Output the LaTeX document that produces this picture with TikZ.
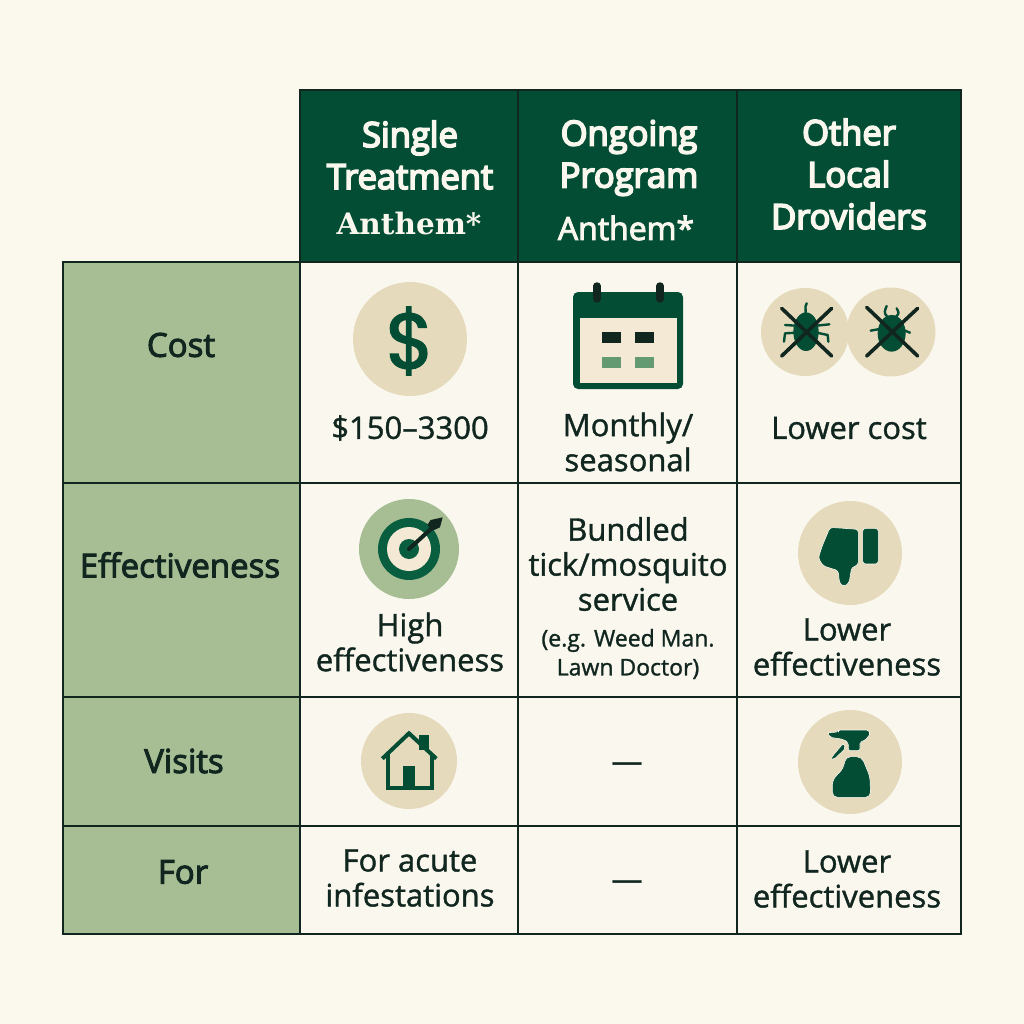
\documentclass[tikz,border=0pt]{standalone}
\usepackage{fontspec}
\setmainfont{Open Sans}[RawFeature={embolden=1.2}]
\newfontfamily\rowfont{Open Sans}[RawFeature={embolden=3}]
\newfontfamily\headfont{Open Sans}[RawFeature={embolden=5}]
\newfontfamily\slab{DejaVu Serif}
\newfontfamily\popp{Poppins}[RawFeature={embolden=2}]
\definecolor{pagebg}{HTML}{FBF8EE}
\definecolor{cellbg}{HTML}{FAF8EE}
\definecolor{dkgreen}{HTML}{044D35}
\definecolor{sage}{HTML}{A7BE95}
\definecolor{tan}{HTML}{E5DABC}
\definecolor{cream}{HTML}{F3E9D4}
\definecolor{ink}{HTML}{10261F}
\definecolor{midgreen}{HTML}{649A72}
\definecolor{ringgreen}{HTML}{0A5E40}
\newcommand{\fs}[2]{\fontsize{#1}{#2}\selectfont}
\tikzset{
  gridcell/.style={draw=ink,line width=1.2pt,anchor=north west,inner sep=0pt,outer sep=0pt},
  headcell/.style={gridcell,fill=dkgreen},
  rowcell/.style={gridcell,fill=sage},
  bodycell/.style={gridcell,fill=cellbg},
  headtxt/.style={text=cellbg,align=center,font=\headfont\fs{34.5}{42}},
  rowtxt/.style={text=ink,align=center,font=\rowfont\fs{33}{40}},
  bodytxt/.style={text=ink,align=center,font=\fs{31}{35}},
  smalltxt/.style={text=ink,align=center,font=\fs{23}{29}},
  iconfill/.style={fill=dkgreen,draw=cellbg,line width=.6pt,line join=round},
  crossline/.style={draw=ink,line width=3.6pt,line cap=round},
  legline/.style={draw=dkgreen,line width=2.4pt,line cap=round,line join=round},
  houseline/.style={draw=dkgreen,line width=4pt,line join=miter}
}
\newcommand{\cellbox}[6]{\node[#1,minimum width=#4pt,minimum height=#5pt] (#6) at (#2,#3) {};}
\begin{document}
\begin{tikzpicture}[x=1pt,y=-1pt]
\useasboundingbox (0,0) rectangle (1024,1024);
\fill[pagebg] (0,0) rectangle (1024,1024);
% header cells
\cellbox{headcell}{300}{90}{218}{172}{h1}
\cellbox{headcell}{518}{90}{219}{172}{h2}
\cellbox{headcell}{737}{90}{224}{172}{h3}
% row header cells
\cellbox{rowcell}{63}{262}{237}{221}{r1}
\cellbox{rowcell}{63}{483}{237}{214}{r2}
\cellbox{rowcell}{63}{697}{237}{129}{r3}
\cellbox{rowcell}{63}{826}{237}{108}{r4}
% body
\foreach \cx/\cw/\cn in {300/218/a,518/219/b,737/224/c}{
  \cellbox{bodycell}{\cx}{262}{\cw}{221}{\cn1}
  \cellbox{bodycell}{\cx}{483}{\cw}{214}{\cn2}
  \cellbox{bodycell}{\cx}{697}{\cw}{129}{\cn3}
  \cellbox{bodycell}{\cx}{826}{\cw}{108}{\cn4}
}
% header text
\node[headtxt] (t1) at (410,155) {Single\\Treatment};
\node[text=cellbg,font=\slab\bfseries\fs{29.5}{32}] (t1b) at (409,224) {Anthem*};
\node[headtxt] (t2) at (629,158) {Ongoing\\Program};
\node[text=cellbg,font=\rowfont\fs{32}{34}] (t2b) at (626,228) {Anthem*};
\node[headtxt] (t3) at (849,174) {Other\\Local\\Droviders};
% row labels
\node[rowtxt] (l1) at (181,345) {Cost};
\node[rowtxt] (l2) at (180,565) {Effectiveness};
\node[rowtxt] (l3) at (184,761) {Visits};
\node[rowtxt] (l4) at (183,872) {For};
% body text
\node[bodytxt] (c11) at (410,428) {\$150–3300};
\node[bodytxt] (c12) at (628,442) {Monthly/\\seasonal};
\node[bodytxt] (c13) at (849,428) {Lower cost};
\node[bodytxt] (c21) at (410,642) {High\\effectiveness};
\node[bodytxt] (c22) at (628,564) {Bundled\\tick/mosquito\\service};
\node[smalltxt] (c22b) at (628,654) {(e.g. Weed Man.\\Lawn Doctor)};
\node[bodytxt] (c23) at (847,647) {Lower\\effectiveness};
\node[bodytxt] (c32) at (627,767) {—};
\node[bodytxt] (c41) at (410,878) {For acute\\infestations};
\node[bodytxt] (c42) at (627,885) {—};
\node[bodytxt] (c43) at (847,879) {Lower\\effectiveness};
% dollar icon
\fill[tan] (410,339) circle (57);
\node[text=dkgreen,font=\popp\fs{78}{78}] (dollar) at (410,341) {\$};
% calendar icon
\fill[dkgreen,rounded corners=5pt] (573,292) rectangle (683,389);
\fill[cream] (580,318) rectangle (677,383);
\foreach \px in {597,660}{\draw[ink,line width=7.5pt,line cap=round] (\px,286) -- (\px,299);}
\foreach \px in {602,635}{
  \fill[ink] (\px,332) rectangle ++(19,11);
  \fill[midgreen] (\px,357) rectangle ++(19,11);
}
% bug icons
\fill[tan] (805,332) circle (44);
\fill[tan] (891,332) circle (44.5);
\begin{scope}[shift={(750,290)},x=.3333pt,y=-.3333pt]
  \fill[dkgreen] (168,125) ellipse (38 and 58);
  \draw[legline] (160,80) .. controls (175,65) and (160,55) .. (170,40);
  \draw[legline] (105,105) -- (150,108);
  \draw[legline] (190,108) -- (238,103);
  \draw[legline] (140,128) -- (105,130) -- (102,155);
  \draw[legline] (200,128) -- (233,135) -- (235,155);
  \fill[dkgreen] (425,130) ellipse (42 and 55);
  \draw[legline] (412,80) .. controls (400,70) and (405,60) .. (410,48);
  \draw[legline] (438,80) .. controls (450,70) and (445,65) .. (440,55);
  \draw[legline] (362,122) -- (400,115);
  \draw[legline] (455,118) -- (480,128);
  \draw[crossline] (95,55) -- (245,198);
  \draw[crossline] (245,55) -- (95,198);
  \draw[crossline] (350,52) -- (503,198);
  \draw[crossline] (503,55) -- (350,198);
\end{scope}
% target icon
\fill[sage] (409,549) circle (50);
\fill[ringgreen] (409,549) circle (31);
\fill[cream] (409,549) circle (22);
\fill[ringgreen] (409,549) circle (10);
\draw[ink,line width=4pt,line cap=round] (409,549) -- (432,528);
\begin{scope}[shift={(340,490)},x=.3333pt,y=-.3333pt]
  \fill[ink] (308,82) -- (300,112) -- (278,122) -- (262,105) -- (272,90) -- cycle;
\end{scope}
% thumb icon
\fill[tan] (850,553) circle (52);
\begin{scope}[shift={(780,490)},x=.3333pt,y=-.3333pt]
  \path[iconfill,rounded corners=3pt] (150,112) -- (235,118) -- (235,225) -- (215,232) -- (207,280) -- (190,290) -- (178,278) -- (175,242) -- (130,228) -- (115,205) -- (125,172) -- cycle;
  \path[iconfill,rounded corners=3pt] (248,115) rectangle (295,222);
\end{scope}
% house icon
\fill[tan] (409,761) circle (48);
\begin{scope}[shift={(340,700)},x=.3333pt,y=-.3333pt]
  \fill[dkgreen] (237,105) rectangle (266,150);
  \draw[houseline] (127,176) -- (207,100) -- (289,176);
  \draw[houseline] (143,162) -- (143,264) -- (275,264) -- (275,162);
  \fill[dkgreen] (190,198) rectangle (226,262);
\end{scope}
% spray icon
\fill[tan] (850,762) circle (52);
\begin{scope}[shift={(780,700)},x=.3333pt,y=-.3333pt]
  \path[iconfill,rounded corners=2pt] (143,98) -- (175,96) -- (175,90) -- (265,90) -- (272,100) -- (255,122) -- (240,125) -- (240,152) -- (205,152) -- (205,128) -- (190,118) -- (150,112) -- cycle;
  \path[iconfill,rounded corners=2pt] (190,130) -- (160,165) -- (152,178) -- (162,178) -- (197,145) -- cycle;
  \path[iconfill,rounded corners=5pt] (197,170) -- (245,170) -- (270,230) -- (272,292) -- (157,292) -- (157,240) -- (190,205) -- cycle;
\end{scope}
\end{tikzpicture}
\end{document}
